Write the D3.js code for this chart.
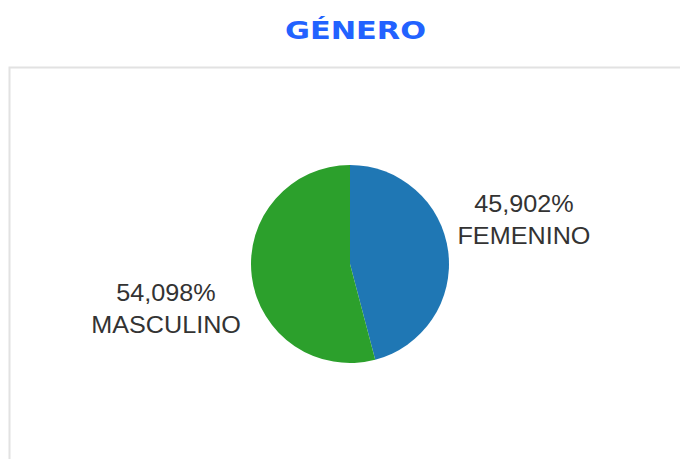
<!DOCTYPE html>
<html><head><meta charset="utf-8">
<script src="https://cdn.jsdelivr.net/npm/d3@7"></script>
<style>html,body{margin:0;padding:0;background:#fff;}</style>
</head><body>
<svg id="chart" width="680" height="459"></svg>
<script>
const title = "GÉNERO";
const categories = ["FEMENINO", "MASCULINO"];
const values = [45.902, 54.098];
const colors = ["#1f77b4", "#2ca02c"];

const svg = d3.select("#chart");
const W = 680, H = 459;

// panel border
svg.append("rect").attr("x", 9.5).attr("y", 67.5).attr("width", W + 10).attr("height", H)
  .attr("fill", "none").attr("stroke", "#e2e2e2").attr("stroke-width", 2);

svg.append("text").attr("x", 355.5).attr("y", 38.5).attr("text-anchor", "middle")
  .attr("font-family", "'DejaVu Sans', sans-serif").attr("font-weight", 700)
  .attr("font-size", 24).attr("fill", "#2262ff")
  .attr("textLength", 141).attr("lengthAdjust", "spacingAndGlyphs").text(title);

const cx = 350, cy = 264, R = 99;
const data = categories.map((c, i) => ({ cat: c, value: values[i], color: colors[i] }));
const pie = d3.pie().value(d => d.value).sort(null);
const arcs = pie(data);
const arc = d3.arc().innerRadius(0).outerRadius(R);
const g = svg.append("g").attr("transform", `translate(${cx},${cy})`);
g.selectAll("path").data(arcs).join("path").attr("d", arc).attr("fill", d => d.data.color);

const fmt = v => d3.format(".3f")(v).replace(".", ",") + "%";
const LR = 184.5, angOff = -0.117, lblShiftX = -5;
const labels = g.selectAll("text.lbl").data(arcs).join("text").attr("class", "lbl")
  .attr("text-anchor", "middle").attr("font-family", "'Liberation Sans', Arial, sans-serif")
  .attr("font-size", 24).attr("fill", "#333")
  .attr("transform", d => {
    const a = (d.startAngle + d.endAngle) / 2 + angOff;
    return `translate(${LR * Math.sin(a) + lblShiftX},${-LR * Math.cos(a)}) scale(1.05,1)`;
  });
labels.append("tspan").attr("x", 0).attr("dy", "-7.5").text(d => fmt(d.data.value));
labels.append("tspan").attr("x", 0).attr("dy", "32").text(d => d.data.cat);
</script>
</body></html>
